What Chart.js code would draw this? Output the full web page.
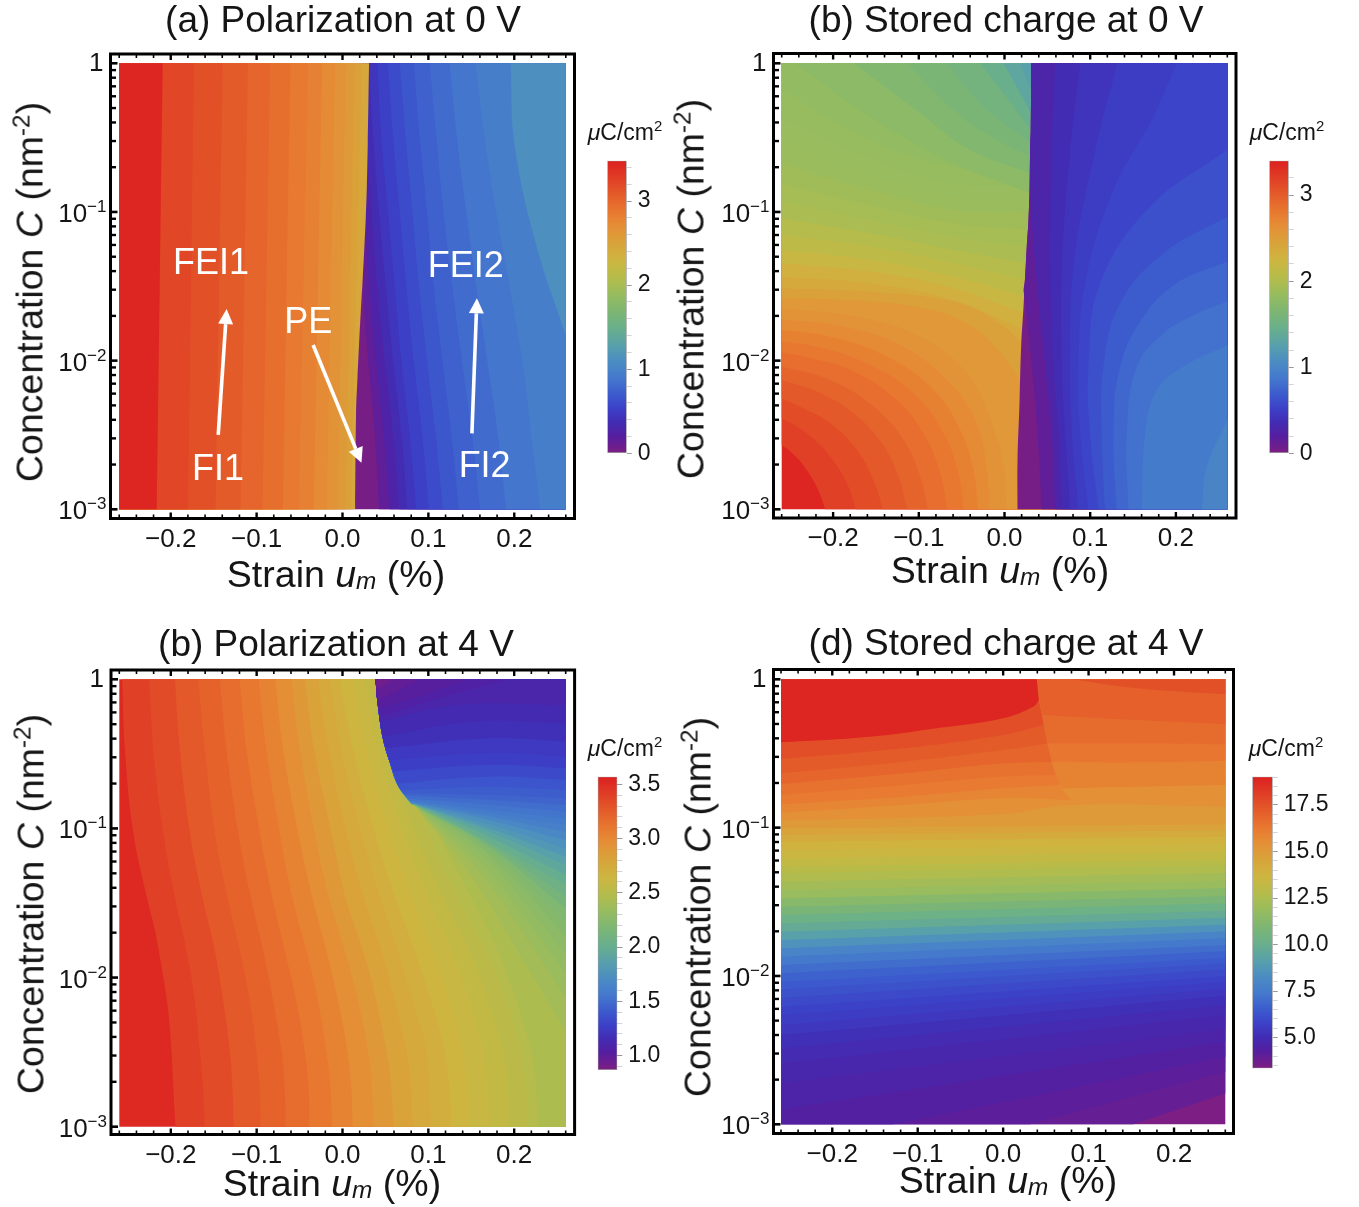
<!DOCTYPE html>
<html>
<head>
<meta charset="utf-8">
<script src="https://cdn.jsdelivr.net/npm/chart.js@4"></script>
<style>
body { margin: 0; background: #fff; width: 1359px; height: 1207px; position: relative; overflow: hidden; font-family: "Liberation Sans", Arial, sans-serif; color: #151515; }
canvas { position: absolute; left: 0; top: 0; }
.txt { position: absolute; white-space: nowrap; transform: translate(-50%, -50%); }
.rot { transform: translate(-50%, -50%) rotate(-90deg); }
.txt sub, .txt sup { font-size: 65%; line-height: 0; }
.txt sub { vertical-align: -0.12em; }
</style>
</head>
<body>
<script>
// axis ticks shared by the four maps
const xMajor = [-0.2, -0.1, 0, 0.1, 0.2];
const xMinor = [-0.26, -0.24, -0.22, -0.18, -0.16, -0.14, -0.12, -0.08, -0.06, -0.04, -0.02, 0.02, 0.04, 0.06, 0.08, 0.12, 0.14, 0.16, 0.18, 0.22, 0.24, 0.26];
const yMajorExp = [-3, -2, -1, 0];
const yMinorMul = [2, 3, 4, 5, 6, 7, 8, 9];

// colour bar stops, position 0..1 along the bar
const cmapPos = [0, 0.06, 0.108, 0.154, 0.2, 0.256, 0.313, 0.37, 0.427, 0.484, 0.541, 0.598, 0.655, 0.712, 0.769, 0.826, 0.883, 0.94, 1];
const cmapRgb = [[125,30,130],[85,30,160],[65,45,180],[60,65,200],[60,90,205],[68,120,205],[75,140,195],[88,160,170],[105,175,140],[125,182,115],[150,188,95],[180,188,75],[205,182,65],[215,165,58],[228,145,55],[232,120,48],[228,92,42],[224,62,38],[220,32,32]];

// contour lines are [strain %, log10 C]

// (a) polarization at 0 V
const aBoundary = [[.0147,-3],[.0158,-2.35],[.0174,-2.12],[.0193,-1.89],[.0213,-1.67],[.0236,-1.44],[.0256,-1.22],[.0271,-1.04],[.0283,-.84],[.0294,-.55],[.0309,0]];
const aRightLogC = [-3, -2.5, -2, -1.5, -1, -.5, 0];
const aRightX = [
  [.0426,.0376,.0298,.0245,.0266,.0287,.031],
  [.055,.0481,.0388,.031,.027,.0289,.031],
  [.0659,.0589,.0492,.0403,.0337,.029,.031],
  [.0756,.0686,.0589,.0504,.0426,.0357,.031],
  [.086,.0783,.0686,.0609,.0531,.0453,.0407],
  [.1008,.093,.0829,.0744,.0667,.059,.0531],
  [.117,.1085,.0984,.0891,.0814,.0736,.0667],
  [.1357,.1267,.1163,.1062,.0984,.0899,.0829],
  [.1605,.1508,.1391,.1279,.1178,.1093,.1016],
  [.1907,.181,.1686,.1558,.1442,.1333,.1248],
  [.2306,.2198,.2093,.1946,.1791,.1655,.1547]
];
const aRightZ = [.15, .27, .36, .45, .53, .6, .67, .74, .81, .88, .95];
const aBaseZ = .03;
const aCornerLine = [[.26,-1.83],[.2256,-1.222],[.2004,-.549],[.1957,0]];
const aCornerZ = 1.12;
const aLeftLogC = [-3, -1.5, 0];
const aLeftX = [
  [.0097,.016,.0224],[.0035,.0088,.014],[-.0055,-.0008,.0038],[-.0183,-.0135,-.0086],
  [-.0334,-.0286,-.0237],[-.0508,-.0455,-.0403],[-.0694,-.065,-.0605],[-.093,-.0886,-.0842],
  [-.1186,-.1143,-.1101],[-.1477,-.1436,-.1395],[-.1799,-.1764,-.1729],[-.2163,-.2128,-.2093]
];
const aLeftZ = [2.52, 2.59, 2.66, 2.73, 2.8, 2.87, 2.94, 3.01, 3.08, 3.15, 3.22, 3.44];
const aBoundaryZ = 2.45;
const aLabels = ["FEI1", "FI1", "PE", "FEI2", "FI2"];
const aLabelX = [-.153, -.145, -.04, .1434, .1655];
const aLabelLogC = [-1.336, -2.722, -1.733, -1.357, -2.702];
const aArrows = [
  [[-.1447,-2.5],[-.1349,-1.653]],
  [[-.0342,-1.895],[.0221,-2.687]],
  [[.1507,-2.489],[.1565,-1.581]]
];

// (b) stored charge at 0 V
const bBaseZ = 3.36;
const bBottomLines = [
  [[-.209,-3],[-.219,-2.85],[-.234,-2.71],[-.25,-2.61],[-.26,-2.57]],
  [[-.1734,-3],[-.1839,-2.825],[-.2033,-2.646],[-.2306,-2.489],[-.26,-2.388]],
  [[-.1419,-3],[-.1528,-2.803],[-.1722,-2.601],[-.2033,-2.422],[-.2345,-2.321],[-.26,-2.253]],
  [[-.1135,-3],[-.1236,-2.78],[-.1431,-2.556],[-.1761,-2.354],[-.2189,-2.208],[-.26,-2.13]],
  [[-.0894,-3],[-.0984,-2.78],[-.1178,-2.534],[-.1528,-2.309],[-.2033,-2.13],[-.26,-2.04]],
  [[-.0669,-3],[-.075,-2.758],[-.0925,-2.511],[-.1256,-2.265],[-.18,-2.063],[-.2345,-1.973],[-.26,-1.946]],
  [[-.0478,-3],[-.0537,-2.758],[-.0711,-2.489],[-.1061,-2.22],[-.1606,-2.018],[-.2189,-1.906],[-.26,-1.872]],
  [[-.0307,-3],[-.0362,-2.735],[-.0517,-2.466],[-.0828,-2.197],[-.1372,-1.973],[-.2033,-1.839],[-.26,-1.794]],
  [[-.0175,-3],[-.0206,-2.735],[-.0323,-2.422],[-.0634,-2.152],[-.1178,-1.906],[-.1878,-1.771],[-.26,-1.722]],
  [[.0027,-3],[-.0012,-2.713],[-.0148,-2.422],[-.0439,-2.085],[-.0984,-1.839],[-.1722,-1.704],[-.26,-1.648]]
];
const bBottomZ = [3.18, 3.1, 3.02, 2.95, 2.88, 2.81, 2.74, 2.67, 2.6, 2.55];
const bMiddleLines = [
  [[.0183,-2.13],[-.0012,-1.973],[-.0323,-1.794],[-.0789,-1.67],[-.1567,-1.603],[-.26,-1.581]],
  [[.021,-1.883],[-.0012,-1.771],[-.0323,-1.659],[-.0789,-1.581],[-.1567,-1.536],[-.26,-1.513]],
  [[.0229,-1.794],[-.0595,-1.592],[-.1567,-1.48],[-.26,-1.435]],
  [[.0237,-1.682],[-.0595,-1.513],[-.1567,-1.401],[-.26,-1.345]],
  [[.0249,-1.57],[-.0595,-1.435],[-.1567,-1.323],[-.26,-1.256]],
  [[.026,-1.457],[-.0595,-1.345],[-.1567,-1.233],[-.26,-1.155]],
  [[.0268,-1.345],[-.0595,-1.256],[-.1567,-1.143],[-.26,-1.043]],
  [[.0276,-1.233],[-.0595,-1.166],[-.1567,-1.054],[-.26,-.93]],
  [[.0284,-1.121],[-.0595,-1.076],[-.1567,-.953],[-.26,-.807]],
  [[.0292,-1.009],[-.0595,-.987],[-.1567,-.852],[-.26,-.673]],
  [[.0295,-.908],[-.0595,-.897],[-.1567,-.751],[-.26,-.527]],
  [[.0299,-.83],[-.0595,-.807],[-.1567,-.639],[-.26,-.37]],
  [[.0303,-.751],[-.0595,-.695],[-.1567,-.516],[-.26,-.179]]
];
const bMiddleZ = [2.465, 2.38, 2.295, 2.19, 2.11, 2.04, 1.97, 1.94, 1.9, 1.87, 1.85, 1.84, 1.82];
const bTopLines = [
  [[.0307,-.874],[-.0595,-.673],[-.1567,-.359],[-.2442,0]],
  [[.0307,-.74],[-.04,-.583],[-.0984,-.336],[-.1761,0]],
  [[.0311,-.628],[-.0089,-.516],[-.0556,-.336],[-.1139,0]],
  [[.0311,-.538],[-.0245,-.291],[-.0673,0]],
  [[.0311,-.448],[-.0012,-.202],[-.0284,0]],
  [[.0311,-.336],[.0183,-.202],[-.0012,0]],
  [[.0311,-.179],[.0183,0]]
];
const bTopZ = [1.77, 1.68, 1.63, 1.56, 1.46, 1.33, 1.26];
const bBoundary = [[.0152,-3],[.0152,-2.668],[.0175,-2.287],[.0194,-1.906],[.0222,-1.637],[.0241,-1.435],[.026,-1.233],[.028,-1.054],[.0292,-.852],[.0299,-.583],[.0307,-.448],[.0311,0]];
const bRightBaseZ = .03;
const bWedgeLines = [
  [[.0435,-3],[.0397,-2.601],[.0338,-2.152],[.028,-1.816],[.0222,-1.525]],
  [[.0591,-3],[.0552,-2.489],[.0474,-2.04],[.0397,-1.592],[.033,-1.143],[.0299,-.807]]
];
const bWedgeZ = [.15, .28];
const bFanTopLines = [
  [[.0669,-3],[.063,-2.489],[.0572,-2.04],[.0533,-1.368],[.0552,-.583],[.0591,0]],
  [[.0766,-3],[.0708,-2.489],[.0669,-2.04],[.0669,-1.368],[.0766,-.583],[.0883,0]],
  [[.0863,-3],[.0786,-2.489],[.0766,-2.04],[.0805,-1.368],[.1058,-.583],[.1318,0]],
  [[.098,-3],[.0883,-2.489],[.0863,-2.04],[.0941,-1.48],[.1271,-.852],[.1738,-.359],[.201,0]]
];
const bFanTopZ = [.36, .42, .49, .55];
const bFanRightLines = [
  [[.1097,-3],[.0999,-2.489],[.098,-2.04],[.1116,-1.48],[.17,-.964],[.26,-.583]],
  [[.1174,-3],[.1135,-2.489],[.1155,-2.04],[.1349,-1.614],[.1855,-1.278],[.26,-1.031]],
  [[.131,-3],[.1271,-2.489],[.1349,-2.04],[.1621,-1.704],[.201,-1.48],[.26,-1.334]],
  [[.1446,-3],[.1427,-2.489],[.1544,-2.04],[.1855,-1.816],[.2205,-1.693],[.26,-1.603]],
  [[.1602,-3],[.1641,-2.489],[.1777,-2.197],[.2088,-2.04],[.26,-1.895]],
  [[.2302,-3],[.236,-2.713],[.26,-2.399]]
];
const bFanRightZ = [.62, .69, .76, .83, .9, 1.0];

// (c) polarization at 4 V
const cBaseZ = 3.52;
const cRedX = [-.1946,-.1973,-.1992,-.2031,-.2089,-.2186,-.2271,-.2438,-.2535,-.2566];
const cRedLogC = [-3,-2.71,-2.486,-2.218,-1.994,-1.681,-1.48,-1.022,-.463,0];
const cLevels = [-3,-2.732,-2.486,-2.151,-1.815,-1.48,-1.022,-.463,0];
const cLeftX = [
  [-.1605,-.1625,-.1663,-.1721,-.1818,-.1946,-.2089,-.2205,-.2252],
  [-.1267,-.1283,-.1314,-.1391,-.1488,-.1624,-.1779,-.1895,-.1953],
  [-.0953,-.0965,-.1004,-.1081,-.1198,-.1333,-.1488,-.1605,-.1682],
  [-.0663,-.0674,-.0713,-.081,-.0926,-.1062,-.1217,-.1353,-.143],
  [-.0384,-.0395,-.0442,-.0539,-.0674,-.081,-.0965,-.112,-.1198],
  [-.012,-.014,-.019,-.0287,-.0422,-.0578,-.0733,-.0888,-.0977],
  [.012,.0101,.0054,-.0054,-.019,-.0345,-.0519,-.0694,-.0783],
  [.036,.0341,.0295,.0178,.0023,-.0151,-.0326,-.05,-.0597],
  [.0597,.0566,.0508,.0391,.0236,.0043,-.0132,-.0333,-.0442],
  [.0818,.0798,.074,.0605,.045,.0256,.0043,-.0163,-.0287],
  [.1031,.1012,.0973,.0818,.0643,.045,.0217,-.0016,-.0151],
  [.1264,.1244,.1186,.1031,.0837,.0624,.0372,.012,-.0035],
  [.1477,.1457,.1399,.1244,.105,.0818,.0547,.0275,.012],
  [.1709,.169,.1632,.1477,.1264,.1012,.0702,.0411,.0256],
  [.1942,.1922,.1864,.169,.1477,.1186,.0837,.0527,.0384],
  [.2155,.2136,.2078,.1903,.1671,.136,.0992,.0605,.045],
  [.2279,.2252,.2194,.2019,.1806,.1516,.1109,.0721,.0527]
];
const cLeftZ = [3.34, 3.27, 3.22, 3.16, 3.1, 3.03, 2.96, 2.89, 2.81, 2.76, 2.71, 2.65, 2.61, 2.57, 2.53, 2.49, 2.45];
const cRedLineZ = 3.39;
const cBoundary = [[.0837,-.843],[.0798,-.832],[.0643,-.709],[.0547,-.552],[.0469,-.396],[.0411,-.172],[.0384,0]];
const cFanLines = [
  [[.26,-2.363],[.2136,-1.916],[.1516,-1.335],[.0837,-.843]],
  [[.26,-2.14],[.2174,-1.759],[.1593,-1.29],[.0837,-.843]],
  [[.26,-1.983],[.2213,-1.67],[.1632,-1.245],[.0837,-.843]],
  [[.26,-1.849],[.2174,-1.536],[.1671,-1.2],[.0837,-.843]],
  [[.26,-1.726],[.169,-1.167],[.0837,-.843]],
  [[.26,-1.625],[.1709,-1.145],[.0837,-.843]],
  [[.26,-1.536],[.1709,-1.122],[.0837,-.843]],
  [[.26,-1.458],[.1709,-1.107],[.0837,-.843]],
  [[.26,-1.379],[.1709,-1.089],[.0837,-.838]],
  [[.26,-1.312],[.1709,-1.055],[.0837,-.838]],
  [[.26,-1.245],[.1709,-1.022],[.0837,-.834]],
  [[.26,-1.189],[.1709,-.999],[.0826,-.834]],
  [[.26,-1.133],[.1709,-.972],[.0818,-.832]],
  [[.26,-1.078],[.1709,-.943],[.081,-.827]],
  [[.26,-1.022],[.1709,-.921],[.0798,-.825]],
  [[.26,-.977],[.1709,-.899],[.0787,-.82]],
  [[.26,-.932],[.1709,-.876],[.0771,-.809]],
  [[.26,-.888],[.1709,-.843],[.0756,-.798]],
  [[.26,-.843],[.1709,-.809],[.0733,-.78]],
  [[.26,-.798],[.1709,-.776],[.0709,-.765]],
  [[.26,-.742],[.1709,-.72],[.0682,-.742]],
  [[.26,-.675],[.1709,-.653],[.0643,-.698]],
  [[.26,-.597],[.1709,-.575],[.0593,-.619]],
  [[.26,-.519],[.1709,-.496],[.0547,-.541]],
  [[.26,-.418],[.1709,-.396],[.0508,-.463]],
  [[.26,-.295],[.1516,-.284],[.0469,-.385]],
  [[.26,-.172],[.1322,-.172],[.0438,-.284]]
];
const cFanZ = [2.395, 2.354, 2.314, 2.273, 2.232, 2.192, 2.124, 2.07, 2.003, 1.935, 1.868, 1.8, 1.746, 1.679, 1.625, 1.584, 1.544, 1.503, 1.462, 1.422, 1.381, 1.327, 1.273, 1.233, 1.179, 1.138, 1.098];
const cTopLines = [
  [[.1942,0],[.1128,-.127],[.045,-.25]],
  [[.1438,0],[.0934,-.105],[.043,-.195]],
  [[.0895,0],[.0663,-.072],[.0411,-.139]],
  [[.0605,0],[.0399,-.072]]
];
const cTopZ = [1.06, 1.02, .98, .92];

// (d) stored charge at 4 V
const dBaseZ = 3.37;
const dCornerLines = [
  [[.1524,-3],[.26,-2.792]],
  [[.0316,-3],[.26,-2.646]],
  [[-.1283,-3],[.26,-2.544]]
];
const dCornerZ = [3.9, 4.13, 4.37];
const dLeftLogC = [-2.9,-2.724,-2.589,-2.488,-2.398,-2.331,-2.263,-2.207,-2.147,-2.09,-2.039,-1.982,-1.926,-1.87,-1.814,-1.758,-1.701,-1.645,-1.589,-1.533,-1.477,-1.421,-1.364,-1.308,-1.263,-1.207,-1.151,-1.095,-1.05,-1.005];
const dRightLogC = [-2.443,-2.36,-2.263,-2.196,-2.133,-2.084,-2.039,-2.0,-1.955,-1.915,-1.877,-1.834,-1.791,-1.746,-1.701,-1.654,-1.607,-1.56,-1.51,-1.461,-1.409,-1.358,-1.306,-1.254,-1.214,-1.162,-1.11,-1.059,-1.018,-.978];
const dAcrossZ = [4.6,4.76,4.92,5.15,5.39,5.62,5.78,6.01,6.25,6.48,6.72,7.03,7.42,7.89,8.52,9.15,9.77,10.24,10.79,11.34,11.89,12.2,12.6,12.91,13.22,13.54,13.85,14.24,14.63,15.02];
const dKinkLine = [[-.26,-.953],[0,-.908],[.0803,-.847],[.26,-.859]];
const dKinkZ = 15.42;
const dBoundary = [[.0795,-.814],[.0686,-.735],[.0589,-.6],[.0511,-.42],[.0452,-.24],[.0417,-.139],[.0394,0]];
const dUpperLeftLines = [
  [[-.26,-.899],[-.1166,-.847],[0,-.802],[.0795,-.814]],
  [[-.26,-.843],[-.1166,-.791],[0,-.735],[.067,-.713]],
  [[-.26,-.78],[-.1166,-.713],[0,-.656],[.062,-.645]],
  [[-.26,-.706],[-.1166,-.634],[0,-.566],[.0569,-.555]],
  [[-.26,-.634],[-.1166,-.555],[0,-.477],[.0515,-.432]],
  [[-.26,-.537],[-.1166,-.465],[0,-.375],[.0474,-.308]],
  [[-.26,-.425],[-.1556,-.387],[-.0776,-.33],[0,-.263],[.0355,-.184],[.0417,-.139]]
];
const dUpperLeftZ = [15.81, 16.2, 16.51, 16.9, 17.22, 17.61, 18.86];
const dUpperRightLines = [
  [[.26,-.713],[.1563,-.724],[.0686,-.735]],
  [[.26,-.551],[.1563,-.56],[.0569,-.555]],
  [[.26,-.438],[.1563,-.432],[.0515,-.432]],
  [[.26,-.301],[.1563,-.274],[.0452,-.24]],
  [[.26,-.101],[.1563,-.061],[.0803,0]]
];
const dUpperRightZ = [15.89, 16.36, 16.67, 17.06, 17.53];

// colour bars
const barAMajor = [0, 1, 2, 3];
const barAMinor = [.2,.4,.6,.8,1.2,1.4,1.6,1.8,2.2,2.4,2.6,2.8,3.2,3.4];
const barCMajor = [1, 1.5, 2, 2.5, 3, 3.5];
const barCMinor = [.9,1.1,1.2,1.3,1.4,1.6,1.7,1.8,1.9,2.1,2.2,2.3,2.4,2.6,2.7,2.8,2.9,3.1,3.2,3.3,3.4];
const barDMajor = [5, 7.5, 10, 12.5, 15, 17.5];
const barDMinor = [3.5,4,4.5,5.5,6,6.5,7,8,8.5,9,9.5,10.5,11,11.5,12,13,13.5,14,14.5,15.5,16,16.5,17,18,18.5,19];

const FONT = '"Liberation Sans", Arial, sans-serif';
const TEXT = "#151515";
const edgeX = 0.26;
const corners = { tl: [-edgeX, 0], tr: [edgeX, 0], bl: [-edgeX, -3], br: [edgeX, -3] };
const wholeRect = [corners.bl, corners.br];
const wholeClose = ["tr", "tl"];

function colorAt(t) {
  t = Math.min(1, Math.max(0, t));
  let i = 0;
  while (i < cmapPos.length - 2 && t > cmapPos[i + 1]) i++;
  const f = (t - cmapPos[i]) / (cmapPos[i + 1] - cmapPos[i]);
  const c = cmapRgb[i].map((v, k) => Math.round(v + (cmapRgb[i + 1][k] - v) * f));
  return "rgb(" + c.join(",") + ")";
}

function levelLine(xs, levels) {
  return xs.map((x, i) => [x, levels[i]]);
}

// carry a line on up the phase boundary to the top edge, the repeated point keeps the join sharp
function upBoundary(line, boundary) {
  const end = line[line.length - 1];
  return line.concat([end], boundary.filter(p => p[1] > end[1]));
}

function addAll(list, lines, zs, close) {
  lines.forEach((line, i) => list.push({ line: line, close: close, z: zs[i] }));
}

// (a) layers, painted in order
const aLayers = [{ line: wholeRect, close: wholeClose, z: aBaseZ }];
addAll(aLayers, aRightX.map(xs => levelLine(xs, aRightLogC)), aRightZ, ["tr", "br"]);
aLayers.push({ line: aCornerLine, close: ["tr"], z: aCornerZ });
aLayers.push({ line: aBoundary, close: ["tl", "bl"], z: aBoundaryZ });
addAll(aLayers, aLeftX.map(xs => levelLine(xs, aLeftLogC)), aLeftZ, ["tl", "bl"]);

// (b) layers
const bLayers = [{ line: wholeRect, close: wholeClose, z: bBaseZ }];
addAll(bLayers, bBottomLines, bBottomZ, ["tl", "tr", "br"]);
addAll(bLayers, bMiddleLines, bMiddleZ, ["tl", "tr"]);
addAll(bLayers, bTopLines, bTopZ, ["tr"]);
bLayers.push({ line: bBoundary, close: ["tr", "br"], z: bRightBaseZ });
addAll(bLayers, bWedgeLines.map(l => upBoundary(l, bBoundary)), bWedgeZ, ["tr", "br"]);
addAll(bLayers, bFanTopLines, bFanTopZ, ["tr", "br"]);
addAll(bLayers, bFanRightLines, bFanRightZ, ["br"]);

// (c) layers
const cSorted = cBoundary.slice().sort((p, q) => p[1] - q[1]);
const cLayers = [{ line: wholeRect, close: wholeClose, z: cBaseZ }];
cLayers.push({ line: levelLine(cRedX, cRedLogC), close: ["tr", "br"], z: cRedLineZ });
addAll(cLayers, cLeftX.map(xs => levelLine(xs, cLevels)), cLeftZ, ["tr", "br"]);
addAll(cLayers, cFanLines.map(l => upBoundary(l, cSorted)), cFanZ, ["tr"]);
addAll(cLayers, cTopLines.map(l => upBoundary(l, cSorted)), cTopZ, []);

// (d) layers
const dSorted = dBoundary.slice().sort((p, q) => p[1] - q[1]);
const dLayers = [{ line: wholeRect, close: wholeClose, z: dBaseZ }];
addAll(dLayers, dCornerLines, dCornerZ, ["tr", "tl", "bl"]);
addAll(dLayers, dLeftLogC.map((l, i) => [[-edgeX, l], [edgeX, dRightLogC[i]]]), dAcrossZ, ["tr", "tl"]);
dLayers.push({ line: dKinkLine, close: ["tr", "tl"], z: dKinkZ });
addAll(dLayers, dUpperRightLines.map(l => upBoundary(l, dSorted)), dUpperRightZ, ["tr"]);
addAll(dLayers, dUpperLeftLines.map(l => upBoundary(l, dSorted)), dUpperLeftZ, ["tl"]);

const panels = [
  { id: "a", title: "(a) Polarization at 0 V", titleX: 343, titleY: 22, layers: aLayers, zMin: 0, zMax: 3.48,
    frame: { l: 110.5, t: 54, r: 574.5, b: 518.5 }, data: { l: 119.2, r: 565.8, t: 63.3, b: 509.3 } },
  { id: "b", title: "(b) Stored charge at 0 V", titleX: 1006, titleY: 22, layers: bLayers, zMin: 0, zMax: 3.4,
    frame: { l: 773.5, t: 53.5, r: 1236, b: 518 }, data: { l: 781.7, r: 1227.3, t: 63.3, b: 509.3 } },
  { id: "c", title: "(b) Polarization at 4 V", titleX: 336, titleY: 645.5, layers: cLayers, zMin: .868, zMax: 3.57,
    frame: { l: 111, t: 670, r: 574.6, b: 1134.5 }, data: { l: 119.3, r: 565.7, t: 679.3, b: 1126.7 } },
  { id: "d", title: "(d) Stored charge at 4 V", titleX: 1006, titleY: 644.5, layers: dLayers, zMin: 3.35, zMax: 19.02,
    frame: { l: 773.5, t: 669.5, r: 1233.5, b: 1133.5 }, data: { l: 781, r: 1225.3, t: 679.3, b: 1124.3 } }
];

const bars = [
  { zMin: 0, zMax: 3.48, major: barAMajor, minor: barAMinor, digits: 0, l: 607.3, r: 626.7, t: 160.7, b: 453.3 },
  { zMin: 0, zMax: 3.4, major: barAMajor, minor: barAMinor.slice(0, 13), digits: 0, l: 1269.3, r: 1288.7, t: 160.7, b: 453.3 },
  { zMin: .868, zMax: 3.57, major: barCMajor, minor: barCMinor, digits: 1, l: 597.7, r: 617.3, t: 776.7, b: 1070 },
  { zMin: 3.35, zMax: 19.02, major: barDMajor, minor: barDMinor, digits: 1, l: 1252.3, r: 1272.7, t: 776.7, b: 1068.3 }
];

const W = 1359, H = 1207;
const AXIS_BOX = 50; // room the tick labels are clipped to
const BAR_BOX = 60;

function newCanvas() {
  const cv = document.createElement("canvas");
  cv.width = W;
  cv.height = H;
  cv.style.width = W + "px";
  cv.style.height = H + "px";
  document.body.appendChild(cv);
  return cv.getContext("2d");
}

function minus(v) {
  return v < 0 ? "\u2212" + Math.abs(v).toFixed(1) : v.toFixed(1);
}

function drawArrow(ctx, x1, y1, x2, y2) {
  const ang = Math.atan2(y2 - y1, x2 - x1);
  const len = 15, half = 7.5;
  const bx = x2 - len * Math.cos(ang), by = y2 - len * Math.sin(ang);
  ctx.strokeStyle = "#fff";
  ctx.fillStyle = "#fff";
  ctx.lineWidth = 3.6;
  ctx.beginPath();
  ctx.moveTo(x1, y1);
  ctx.lineTo(bx, by);
  ctx.stroke();
  ctx.beginPath();
  ctx.moveTo(x2, y2);
  ctx.lineTo(bx - half * Math.sin(ang), by + half * Math.cos(ang));
  ctx.lineTo(bx + half * Math.sin(ang), by - half * Math.cos(ang));
  ctx.closePath();
  ctx.fill();
}

function framePlugin(p) {
  return {
    id: "frame" + p.id,
    // the title is centred on its own spot, not on the plot
    afterLayout(chart) {
      const t = chart.titleBlock;
      t.left = p.titleX - 300;
      t.right = p.titleX + 300;
      t.top = p.titleY - 22;
      t.bottom = p.titleY + 22;
    },
    afterDatasetsDraw(chart) {
      const ctx = chart.ctx, c = chart.chartArea, x = chart.scales.x, y = chart.scales.y;
      ctx.save();
      ctx.strokeStyle = "#000";
      // x ticks, bottom and top
      xMajor.concat(xMinor).forEach(v => {
        const px = x.getPixelForValue(v);
        const major = xMajor.includes(v);
        const len = major ? 6 : 4;
        ctx.lineWidth = major ? 2.4 : 1.6;
        ctx.beginPath();
        ctx.moveTo(px, c.bottom);
        ctx.lineTo(px, c.bottom - len);
        ctx.moveTo(px, c.top);
        ctx.lineTo(px, c.top + len);
        ctx.stroke();
      });
      // y ticks, left side only
      yMajorExp.forEach(e => {
        const py = y.getPixelForValue(Math.pow(10, e));
        ctx.lineWidth = 2.6;
        ctx.beginPath();
        ctx.moveTo(c.left, py);
        ctx.lineTo(c.left + 7, py);
        ctx.stroke();
        if (e < 0) {
          yMinorMul.forEach(m => {
            const pm = y.getPixelForValue(m * Math.pow(10, e));
            ctx.lineWidth = 2.4;
            ctx.beginPath();
            ctx.moveTo(c.left, pm);
            ctx.lineTo(c.left + 5.5, pm);
            ctx.stroke();
          });
        }
        // decade labels with raised exponent
        ctx.fillStyle = TEXT;
        ctx.textBaseline = "alphabetic";
        ctx.textAlign = "left";
        const right = c.left - 4;
        if (e === 0) {
          ctx.font = "26px " + FONT;
          ctx.textAlign = "right";
          ctx.fillText("1", right - 3, py + 8);
        } else {
          const exp = "\u2212" + Math.abs(e);
          ctx.font = "17px " + FONT;
          const w = ctx.measureText(exp).width;
          ctx.fillText(exp, right - w, py);
          ctx.font = "26px " + FONT;
          const w10 = ctx.measureText("10").width;
          ctx.fillText("10", right - w - w10, py + 10);
        }
      });
      // frame
      ctx.strokeStyle = "#000";
      ctx.lineWidth = 3;
      ctx.strokeRect(c.left, c.top, c.right - c.left, c.bottom - c.top);
      // regime labels and arrows of the first map
      if (p.id === "a") {
        aArrows.forEach(a => drawArrow(ctx,
          x.getPixelForValue(a[0][0]), y.getPixelForValue(Math.pow(10, a[0][1])),
          x.getPixelForValue(a[1][0]), y.getPixelForValue(Math.pow(10, a[1][1]))));
        ctx.font = "36px " + FONT;
        ctx.fillStyle = "#fff";
        ctx.textAlign = "center";
        ctx.textBaseline = "middle";
        aLabels.forEach((s, i) => ctx.fillText(s, x.getPixelForValue(aLabelX[i]), y.getPixelForValue(Math.pow(10, aLabelLogC[i])) + 2.5));
      }
      ctx.restore();
    }
  };
}

function drawPanel(p) {
  const f = p.frame, d = p.data;
  const perX = (edgeX * 2) / (d.r - d.l);
  const perY = 3 / (d.b - d.t);
  const datasets = p.layers.map(l => {
    // repeated end and corner points keep the tension off the closing edges
    const first = l.line[0], last = l.line[l.line.length - 1];
    const pts = [first].concat(l.line, [last]);
    l.close.forEach(k => pts.push(corners[k], corners[k]));
    const color = colorAt((l.z - p.zMin) / (p.zMax - p.zMin));
    return {
      data: pts.map(q => ({ x: q[0], y: Math.pow(10, q[1]) })),
      showLine: true,
      fill: "shape",
      backgroundColor: color,
      borderColor: color,
      borderWidth: 0,
      pointRadius: 0,
      tension: 0.4
    };
  }).reverse(); // chart.js paints the last dataset first

  new Chart(newCanvas(), {
    type: "scatter",
    data: { datasets: datasets },
    options: {
      responsive: false,
      animation: false,
      layout: { autoPadding: false, padding: { left: f.l, right: W - f.r, top: f.t - 44, bottom: H - f.b - AXIS_BOX } },
      plugins: {
        legend: { display: false },
        tooltip: { enabled: false },
        title: { display: true, text: p.title, color: TEXT, padding: 0, font: { family: FONT, size: 37, weight: "normal", lineHeight: 44 / 37 } }
      },
      scales: {
        x: {
          type: "linear",
          min: -edgeX - (d.l - f.l) * perX,
          max: edgeX + (f.r - d.r) * perX,
          afterBuildTicks: s => { s.ticks = xMajor.map(v => ({ value: v })); },
          afterFit: s => { s.height = AXIS_BOX; },
          grid: { display: false, drawTicks: false },
          border: { display: false },
          ticks: { autoSkip: false, maxRotation: 0, padding: 5.5, color: TEXT, font: { family: FONT, size: 26 }, callback: v => minus(v) }
        },
        y: {
          type: "logarithmic",
          min: Math.pow(10, -3 - (f.b - d.b) * perY),
          max: Math.pow(10, (d.t - f.t) * perY),
          afterFit: s => { s.width = 0; },
          grid: { display: false, drawTicks: false },
          border: { display: false },
          ticks: { display: false }
        }
      }
    },
    plugins: [framePlugin(p)]
  });
}

function drawBar(b) {
  new Chart(newCanvas(), {
    type: "bar",
    data: {
      labels: [""],
      datasets: [{
        data: [[b.zMin, b.zMax]],
        barPercentage: 1,
        categoryPercentage: 1,
        borderWidth: 1,
        borderColor: "rgba(120,120,120,0.7)",
        borderSkipped: false,
        backgroundColor: c => {
          const s = c.chart.scales.y;
          // first pass runs before the scale has a size
          if (!s || !c.chart.chartArea || !isFinite(s.getPixelForValue(b.zMin))) return "#888";
          const g = c.chart.ctx.createLinearGradient(0, s.getPixelForValue(b.zMin), 0, s.getPixelForValue(b.zMax));
          cmapPos.forEach(t => g.addColorStop(t, colorAt(t)));
          return g;
        }
      }]
    },
    options: {
      responsive: false,
      animation: false,
      layout: { autoPadding: false, padding: { left: b.l, right: W - b.r - BAR_BOX, top: b.t, bottom: H - b.b } },
      plugins: { legend: { display: false }, tooltip: { enabled: false } },
      scales: {
        x: { display: false },
        y: {
          position: "right",
          min: b.zMin,
          max: b.zMax,
          afterBuildTicks: s => { s.ticks = b.major.concat(b.minor).sort((p, q) => p - q).map(v => ({ value: v })); },
          afterFit: s => { s.width = BAR_BOX; },
          border: { display: false },
          grid: {
            drawOnChartArea: false,
            tickLength: 5,
            color: c => (b.major.includes(c.tick.value) ? "#999" : "#d4d4d4")
          },
          ticks: {
            autoSkip: false,
            padding: 6,
            color: TEXT,
            font: { family: FONT, size: 23 },
            callback: v => (b.major.includes(v) ? v.toFixed(b.digits) : "")
          }
        }
      }
    }
  });
}

panels.forEach(drawPanel);
bars.forEach(drawBar);

// axis titles need italics and sub/superscripts, so they are page text
const pageText = [
  ['Strain <i>u</i><sub><i>m</i></sub> (%)', 336, 574, 37.5, false],
  ['Strain <i>u</i><sub><i>m</i></sub> (%)', 1000, 570, 37.5, false],
  ['Strain <i>u</i><sub><i>m</i></sub> (%)', 332, 1183, 37.5, false],
  ['Strain <i>u</i><sub><i>m</i></sub> (%)', 1008, 1180, 37.5, false],
  ['Concentration <i>C</i> (nm<sup>-2</sup>)', 30, 292, 37.5, true],
  ['Concentration <i>C</i> (nm<sup>-2</sup>)', 691, 289, 37.5, true],
  ['Concentration <i>C</i> (nm<sup>-2</sup>)', 31, 904, 37.5, true],
  ['Concentration <i>C</i> (nm<sup>-2</sup>)', 698, 907, 37.5, true],
  ['<i>\u03bc</i>C/cm<sup>2</sup>', 625, 132, 23, false],
  ['<i>\u03bc</i>C/cm<sup>2</sup>', 1287, 132, 23, false],
  ['<i>\u03bc</i>C/cm<sup>2</sup>', 625, 748, 23, false],
  ['<i>\u03bc</i>C/cm<sup>2</sup>', 1286, 748, 23, false]
];
pageText.forEach(t => {
  const el = document.createElement("div");
  el.className = t[4] ? "txt rot" : "txt";
  el.innerHTML = t[0];
  el.style.left = t[1] + "px";
  el.style.top = t[2] + "px";
  el.style.fontSize = t[3] + "px";
  document.body.appendChild(el);
});
</script>
</body>
</html>
